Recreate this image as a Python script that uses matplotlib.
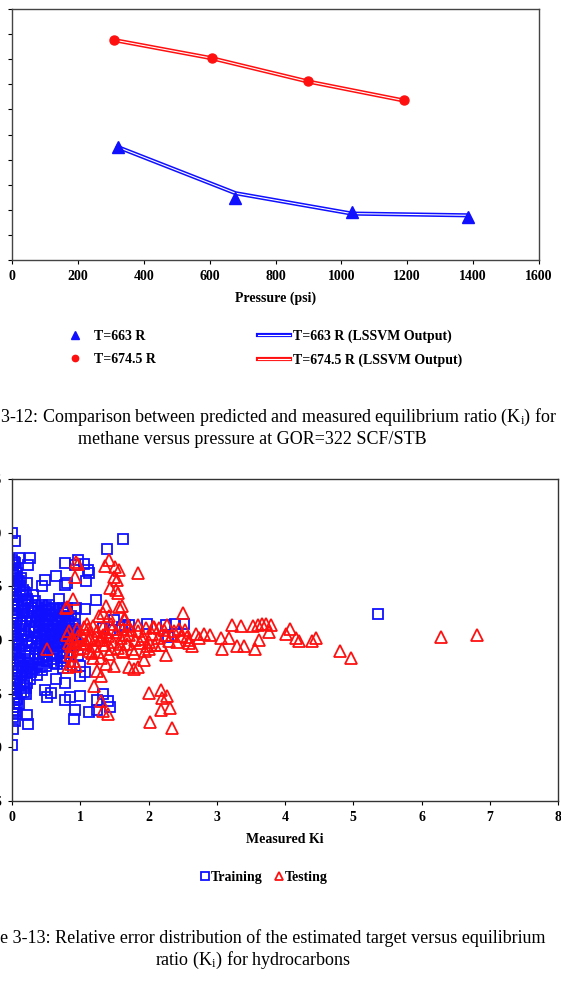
import numpy as np
import matplotlib
matplotlib.use('Agg')
import matplotlib.pyplot as plt
import matplotlib.patheffects as pe

plt.rcParams['font.family'] = ['Liberation Serif', 'DejaVu Serif']
plt.rcParams['mathtext.fontset'] = 'custom'
plt.rcParams['mathtext.rm'] = 'Liberation Serif'
plt.rcParams['mathtext.it'] = 'Liberation Serif:italic'

#%% chart 1 data: Ki of methane vs pressure
P_663 = [321, 676, 1031, 1384]
K_663 = [4.52, 2.48, 1.91, 1.70]
P_663_FIT = [321, 679, 1031, 1384]
K_663_FIT = [4.50, 2.66, 1.85, 1.78]

P_674 = [311, 606, 899, 1191]
K_674 = [8.78, 8.06, 7.12, 6.36]
K_674_FIT = [8.76, 8.04, 7.11, 6.35]

#%% chart 2 data: relative error vs measured Ki
TRAIN_KI_A = [
    # column at Ki ~ 0
    0.00, 0.01, 0.02, 0.00, 0.03, 0.01, 0.02, 0.00, 0.04, 0.01, 0.03, 0.00, 0.02,
    0.05, 0.01, 0.00, 0.03, 0.02, 0.04, 0.01, 0.00, 0.02, 0.05, 0.03, 0.01,
    0.00, 0.04, 0.05, 0.02, 0.00, 0.02, 0.06,
    # second column
    0.08, 0.10, 0.06, 0.12, 0.09, 0.14, 0.07, 0.11, 0.13, 0.08, 0.10, 0.06, 0.12,
    0.15, 0.09, 0.07, 0.11, 0.13, 0.08, 0.10,
    # third column
    0.18, 0.22, 0.16, 0.25, 0.20, 0.28, 0.17, 0.23, 0.27, 0.19, 0.24, 0.30, 0.21,
    0.26, 0.18,
    # block 0.3 - 0.55
    0.33, 0.38, 0.44, 0.50, 0.36, 0.42, 0.48, 0.54, 0.34, 0.40, 0.46, 0.52, 0.37,
    0.43, 0.49, 0.55, 0.35, 0.41, 0.47, 0.53, 0.39, 0.45, 0.51, 0.32, 0.44,
    # block 0.55 - 0.95
    0.58, 0.64, 0.70, 0.76, 0.82, 0.60, 0.67, 0.73, 0.79, 0.86, 0.92, 0.57, 0.63,
    0.69, 0.75, 0.81, 0.88, 0.94, 0.61, 0.68, 0.74, 0.80, 0.59, 0.66, 0.72,
    # scattered squares
    0.04, 1.62, 1.39, 0.26, 0.23, 0.10, 0.77, 0.92, 0.97, 1.06, 1.12, 1.13, 0.65,
    0.48, 0.44, 0.22, 0.13, 0.81, 0.77, 1.08, 0.31, 0.15, 0.34, 0.69, 0.54, 1.23,
    1.07, 0.94, 0.80, 5.36, 1.49, 1.65, 1.98, 2.25, 2.39, 2.52, 1.43, 1.33, 1.61,
    1.71, 2.29,
    0.00, 0.02, 0.05, 0.24, 0.22, 0.06, 0.20, 0.52, 0.57, 0.48, 0.78, 0.85, 1.00,
    0.92, 0.91, 1.13, 1.25, 1.34, 1.24, 1.43, 1.41, 0.36, 0.41, 0.65, 0.78, 1.00,
    1.07, 1.00, 0.97,
]
TRAIN_ERR_A = [
    0.75, 0.70, 0.64, 0.58, 0.52, 0.46, 0.40, 0.34, 0.28, 0.22, 0.16, 0.10, 0.04,
    -0.02, -0.08, -0.14, -0.20, -0.26, -0.32, -0.38, -0.44, -0.50, -0.56, -0.62, -0.68,
    1.00, 0.72, 0.60, -0.72, 0.48, 0.12, -0.04,
    0.62, 0.55, 0.47, 0.41, 0.33, 0.27, 0.20, 0.13, 0.06, 0.00, -0.06, -0.12, -0.18,
    -0.24, -0.30, -0.36, -0.42, -0.48, -0.55, -0.60,
    0.45, 0.38, 0.30, 0.25, 0.18, 0.12, 0.06, 0.00, -0.06, -0.12, -0.18, -0.24, -0.30,
    -0.36, -0.43,
    0.32, 0.30, 0.33, 0.31, 0.22, 0.24, 0.20, 0.23, 0.12, 0.14, 0.10, 0.13, 0.02,
    0.04, 0.00, 0.03, -0.08, -0.06, -0.10, -0.07, -0.18, -0.16, -0.20, -0.26, -0.28,
    0.24, 0.26, 0.22, 0.25, 0.20, 0.14, 0.16, 0.12, 0.15, 0.10, 0.08, 0.04, 0.06,
    0.02, 0.05, 0.00, 0.03, -0.02, -0.08, -0.06, -0.10, -0.12, -0.18, -0.22, -0.20,
    0.92, 0.94, 0.85, 0.76, 0.70, 0.76, 0.72, 0.70, 0.75, 0.71, 0.65, 0.62, 0.60,
    0.56, 0.50, 0.53, 0.58, 0.53, 0.51, 0.55, 0.42, 0.42, 0.36, 0.38, 0.33, 0.37,
    0.29, 0.30, 0.30, 0.24, 0.19, 0.14, 0.15, 0.14, 0.15, 0.15, 0.09, 0.11, 0.12,
    0.14, 0.03,
    -0.98, -0.83, -0.75, -0.78, -0.70, -0.69, -0.50, -0.53, -0.49, -0.47, -0.56, -0.53, -0.52,
    -0.65, -0.74, -0.67, -0.65, -0.50, -0.56, -0.62, -0.57, -0.33, -0.25, -0.36, -0.40, -0.34,
    -0.30, -0.24, -0.14,
]
# extra training points filling the dense cloud near Ki = 0 .. 1
TRAIN_KI_B = [
    0.03, 0.06, 0.02, 0.07, 0.04, 0.06, 0.03, 0.07, 0.05, 0.02, 0.06, 0.04, 0.07,
    0.03, 0.05, 0.06, 0.02, 0.07, 0.04, 0.05, 0.06, 0.03, 0.07, 0.04, 0.05,
    0.12, 0.16, 0.20, 0.24, 0.28, 0.14, 0.18, 0.22, 0.26, 0.30, 0.13, 0.17, 0.21,
    0.25, 0.29, 0.15, 0.19, 0.23, 0.27, 0.12, 0.16, 0.20, 0.24, 0.28, 0.14, 0.18,
    0.22, 0.26, 0.17, 0.21,
    0.32, 0.38, 0.44, 0.50, 0.56, 0.62, 0.68, 0.74, 0.80, 0.86, 0.92,
    0.35, 0.41, 0.47, 0.53, 0.59, 0.65, 0.71, 0.77, 0.83, 0.89,
    0.33, 0.39, 0.45, 0.51, 0.57, 0.63, 0.69, 0.75, 0.81, 0.87, 0.93,
    0.36, 0.42, 0.48, 0.54, 0.60, 0.66, 0.72, 0.78, 0.84,
    0.34, 0.40, 0.46, 0.52, 0.58, 0.64, 0.70, 0.76, 0.38, 0.50, 0.62, 0.74,
]
TRAIN_ERR_B = [
    0.73, 0.66, 0.61, 0.55, 0.49, 0.43, 0.37, 0.31, 0.25, 0.19, 0.13, 0.07, 0.01,
    -0.05, -0.11, -0.17, -0.23, -0.29, -0.35, -0.41, -0.47, -0.53, -0.59, -0.65, -0.45,
    0.50, 0.47, 0.42, 0.36, 0.30, 0.34, 0.28, 0.22, 0.17, 0.20, 0.16, 0.10, 0.04,
    0.08, -0.02, -0.04, -0.10, -0.15, -0.12, -0.20, -0.24, -0.26, -0.22, -0.30, -0.33, -0.38,
    -0.40, -0.28, -0.48, -0.45,
    0.27, 0.26, 0.28, 0.27, 0.29, 0.30, 0.28, 0.30, 0.27, 0.22, 0.20,
    0.17, 0.18, 0.16, 0.18, 0.19, 0.20, 0.18, 0.19, 0.17, 0.15,
    0.07, 0.08, 0.06, 0.09, 0.08, 0.10, 0.09, 0.08, 0.07, 0.06, 0.05,
    -0.03, -0.02, -0.04, -0.03, -0.01, -0.02, -0.03, -0.04, -0.06,
    -0.13, -0.12, -0.14, -0.11, -0.13, -0.15, -0.12, -0.16, -0.22, -0.24, -0.21, -0.26,
]
TRAIN_KI = TRAIN_KI_A + TRAIN_KI_B
TRAIN_ERR = TRAIN_ERR_A + TRAIN_ERR_B

TEST_KI_A = [
    # column near Ki ~ 0.9
    0.86, 0.85, 0.86, 0.82, 0.94, 0.91, 0.90, 0.81, 0.93, 0.94, 0.97, 0.88, 0.84,
    0.92, 0.87, 0.79, 0.51,
    # column near Ki ~ 1.4
    1.42, 1.36, 1.51, 1.49, 1.54, 1.43, 1.55, 1.37, 1.61, 1.33, 1.65, 1.57, 1.57,
    1.64, 1.30, 1.33, 1.40, 1.20, 1.24, 1.31, 1.18, 1.17, 1.30, 1.42, 1.38, 1.50,
    1.27, 1.42, 1.52,
    # main band
    1.02, 1.08, 1.12, 1.15, 1.20, 1.25, 1.28, 1.33, 1.36, 1.40, 1.45, 1.48, 1.52,
    1.56, 1.60, 1.63, 1.68, 1.72, 1.76, 1.80, 1.84, 1.88, 1.92, 1.96, 2.00, 2.05,
    2.10, 2.14, 2.19, 2.22, 2.27, 2.30, 2.35, 2.42, 2.48, 2.53, 2.59, 2.64, 2.69,
    2.74, 2.81, 2.59, 2.06, 2.51, 1.62, 1.79, 1.93, 1.71, 1.79, 1.85, 2.01, 2.26,
    2.19, 1.63, 1.05, 1.10, 0.98, 1.13, 1.26, 1.45, 1.70, 1.85, 1.95, 0.80, 0.95,
    1.00, 1.06,
    # lower cluster
    1.84, 2.00, 2.19, 2.20, 2.27, 2.18, 2.31, 2.02, 2.35, 1.30, 1.33,
    # far right
    3.22, 3.36, 3.53, 3.60, 3.66, 3.72, 3.79, 3.77, 4.01, 4.08, 4.16, 4.40, 4.46,
    4.81, 4.96, 6.28, 6.82, 3.06, 3.18, 3.08, 3.30, 3.40, 3.56, 3.62, 2.90, 4.20,
]
TEST_ERR_A = [
    -0.06, -0.14, -0.22, -0.25, -0.24, -0.20, 0.38, 0.31, 0.59, 0.73, 0.71, 0.02, 0.08,
    -0.02, -0.10, 0.30, -0.08,
    0.75, 0.69, 0.68, 0.59, 0.56, 0.48, 0.44, 0.32, 0.32, 0.25, 0.20, 0.65, 0.31,
    0.20, -0.57, -0.66, -0.69, -0.43, -0.29, -0.34, -0.17, -0.12, -0.17, -0.13, -0.22, -0.24,
    0.22, 0.22, 0.47,
    0.05, -0.03, 0.10, 0.02, -0.06, 0.08, 0.00, 0.12, -0.05, 0.04, 0.15, -0.02, 0.07,
    -0.07, 0.02, 0.10, -0.04, 0.05, -0.08, 0.00, 0.08, -0.03, 0.04, 0.11, -0.02, 0.06,
    -0.05, 0.02, -0.05, 0.09, 0.14, -0.01, 0.05, -0.02, 0.04, 0.09, -0.03, -0.06, 0.06,
    0.015, 0.06, 0.00, 0.12, 0.25, -0.10, -0.12, -0.19, -0.25, -0.27, -0.25, -0.08, -0.14,
    -0.05, -0.11, 0.12, 0.15, -0.08, -0.10, -0.11, -0.08, 0.13, 0.14, -0.10, 0.05, 0.10,
    0.00, -0.04,
    0.62, -0.49, -0.47, -0.54, -0.52, -0.65, -0.63, -0.76, -0.82, 0.0, 0.05,
    0.14, 0.13, 0.13, 0.14, 0.15, 0.15, 0.14, 0.07, 0.06, 0.10, 0.015, -0.01, 0.02,
    -0.10, -0.17, 0.025, 0.047, 0.015, 0.02, -0.08, -0.06, -0.06, -0.08, 0.00, 0.05, -0.01,
]
TEST_KI_B = [1.04, 1.18, 1.32, 1.46, 1.58, 1.74, 1.90, 2.08, 2.24, 2.38, 2.56, 1.12,
             1.38, 1.66, 1.98, 2.16, 2.45, 0.83, 0.96, 1.22]
TEST_ERR_B = [-0.07, 0.13, 0.03, 0.10, -0.04, 0.09, 0.01, 0.12, 0.05, 0.08, 0.03, 0.00,
              0.07, 0.05, -0.06, 0.11, 0.10, -0.03, 0.04, 0.01]
TEST_KI = TEST_KI_A + TEST_KI_B
TEST_ERR = TEST_ERR_A + TEST_ERR_B

BLUE = '#1010ff'
RED = '#ff1010'

fig = plt.figure(figsize=(5.61, 10.08), dpi=100)
W, H = 561.0, 1008.0

# ---------------- top chart ----------------
ax1 = fig.add_axes([12 / W, 1 - 260 / H, (539 - 12) / W, (260 - 9) / H])
l_fit1, = ax1.plot(P_663_FIT, K_663_FIT, color='white', lw=0.8,
                   path_effects=[pe.Stroke(linewidth=3.0, foreground=BLUE), pe.Normal()])
l_fit2, = ax1.plot(P_674, K_674_FIT, color='white', lw=0.8,
                   path_effects=[pe.Stroke(linewidth=3.0, foreground=RED), pe.Normal()])
m1, = ax1.plot(P_663, K_663, linestyle='none', marker='^', ms=9, color=BLUE)
m2, = ax1.plot(P_674, K_674, linestyle='none', marker='o', ms=6.5, color=RED)

ax1.set_xlim(0, 1600)
ax1.set_ylim(0, 10)
ax1.set_xticks(np.arange(0, 1601, 200))
ax1.set_yticks(np.arange(0, 11, 1))
ax1.set_yticklabels([])
ax1.tick_params(direction='out', length=3, width=0.8, pad=4, labelsize=10)
for lab in ax1.get_xticklabels():
    lab.set_fontweight('bold')
for s in ax1.spines.values():
    s.set_color('#444444')
    s.set_linewidth(1.0)
ax1.set_xlabel('Pressure (psi)', fontsize=10, fontweight='bold', labelpad=6)

fig.legend([m1, m2, l_fit1, l_fit2],
           ['T=663 R', 'T=674.5 R', 'T=663 R (LSSVM Output)', 'T=674.5 R (LSSVM Output)'],
           ncol=2, loc='center left', bbox_to_anchor=(59 / W, 1 - 348 / H),
           frameon=False, borderpad=0, borderaxespad=0, handlelength=2.3,
           handletextpad=0.2, columnspacing=7.4, labelspacing=0.75, markerscale=0.7,
           prop={'size': 10, 'weight': 'bold'})

fig.text(0 / W, 1 - 417 / H, '3-12: Comparison between predicted and measured equilibrium ratio (K$_\\mathrm{i}$) for',
         fontsize=13, ha='left', va='center')
fig.text(252 / W, 1 - 439 / H, 'methane versus pressure at GOR=322 SCF/STB',
         fontsize=13, ha='center', va='center')

# ---------------- bottom chart ----------------
ax2 = fig.add_axes([12 / W, 1 - 801 / H, (558 - 12) / W, (801 - 479) / H])
sq, = ax2.plot(TRAIN_KI, TRAIN_ERR, linestyle='none', marker='s', ms=7.5,
               mfc='none', mec=BLUE, mew=1.3)
tr, = ax2.plot(TEST_KI, TEST_ERR, linestyle='none', marker='^', ms=8.5,
               mfc='none', mec=RED, mew=1.3)
ax2.set_xlim(0, 8)
ax2.set_ylim(-1.5, 1.5)
ax2.set_xticks(np.arange(0, 9, 1))
ax2.set_yticks(np.arange(-1.5, 1.51, 0.5))
ax2.set_yticklabels(['-1.5', '-1.0', '-0.5', '0.0', '0.5', '1.0', '1.5'])
ax2.tick_params(direction='out', length=3, width=0.8, pad=4, labelsize=10)
for lab in ax2.get_xticklabels() + ax2.get_yticklabels():
    lab.set_fontweight('bold')
for s in ax2.spines.values():
    s.set_color('#333333')
    s.set_linewidth(1.0)
ax2.set_xlabel('Measured Ki', fontsize=10, fontweight='bold', labelpad=7)

fig.legend([sq, tr], ['Training', 'Testing'], ncol=2, loc='center',
           bbox_to_anchor=(264 / W, 1 - 877 / H), frameon=False, borderpad=0,
           borderaxespad=0, handlelength=0.6, handletextpad=0.1, columnspacing=0.9,
           markerscale=0.75, prop={'size': 10, 'weight': 'bold'})

fig.text(0 / W, 1 - 938 / H, 'e 3-13: Relative error distribution of the estimated target versus equilibrium',
         fontsize=13, ha='left', va='center')
fig.text(253 / W, 1 - 960 / H, 'ratio (K$_\\mathrm{i}$) for hydrocarbons',
         fontsize=13, ha='center', va='center')

fig.savefig('out.png', dpi=100)
